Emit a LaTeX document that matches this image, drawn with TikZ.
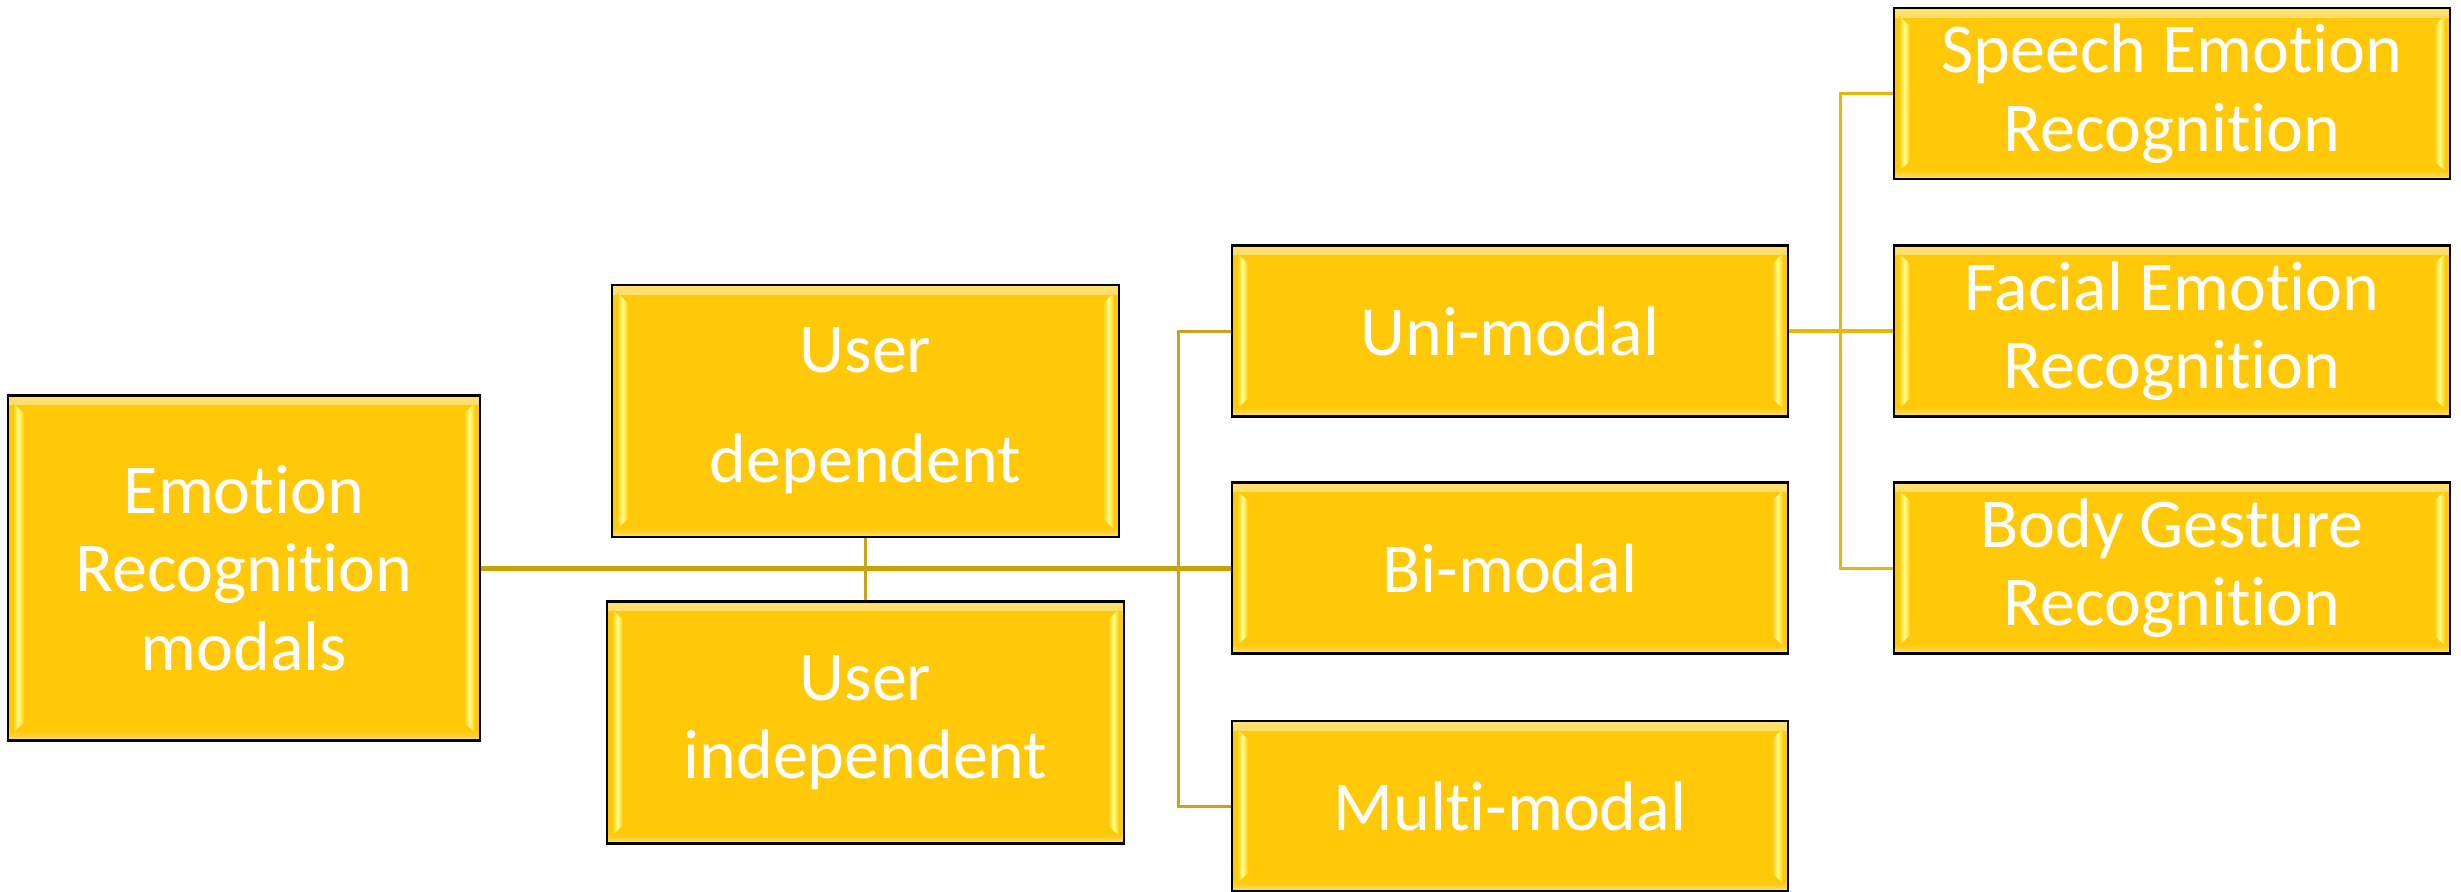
\documentclass[tikz,border=0pt]{standalone}
\usepackage{fontspec}
\setmainfont{Carlito}[Ligatures=NoCommon]

\definecolor{boxfill}{HTML}{FFC90A}
\definecolor{bevel}{HTML}{FFFF8C}
\definecolor{glow}{HTML}{FFE070}
\definecolor{linkdark}{HTML}{C9A100}
\definecolor{linkmid}{HTML}{CBA41E}
\definecolor{linkbright}{HTML}{E5B70A}

\tikzset{
  % bevelled yellow box with white text
  box/.style={
    draw=black, line width=1.1pt, fill=boxfill, text=white,
    inner sep=0pt, align=center,
    font=\fontsize{35}{39.25}\selectfont,
    path picture={
      % soft highlight along the top and bottom edges
      \fill[top color=glow, bottom color=boxfill]
        (path picture bounding box.north west) rectangle
        ([yshift=-4.5pt]path picture bounding box.north east);
      \fill[top color=boxfill, bottom color=glow]
        ([yshift=4.5pt]path picture bounding box.south west) rectangle
        (path picture bounding box.south east);
      % left bevel strip
      \fill[left color=boxfill, right color=boxfill, middle color=bevel]
        ([shift={(2.5pt,-4pt)}]path picture bounding box.north west) --
        ([shift={(8pt,-9pt)}]path picture bounding box.north west) --
        ([shift={(8pt,9pt)}]path picture bounding box.south west) --
        ([shift={(2.5pt,4pt)}]path picture bounding box.south west) -- cycle;
      % right bevel strip
      \fill[left color=boxfill, right color=boxfill, middle color=bevel]
        ([shift={(-2.5pt,-4pt)}]path picture bounding box.north east) --
        ([shift={(-8pt,-9pt)}]path picture bounding box.north east) --
        ([shift={(-8pt,9pt)}]path picture bounding box.south east) --
        ([shift={(-2.5pt,4pt)}]path picture bounding box.south east) -- cycle;
    }},
  modebox/.style={box, minimum width=278pt, minimum height=85.5pt},
  mainlink/.style={draw=linkdark, line width=2.5pt},
  thinlink/.style={draw=linkmid, line width=1.5pt},
  brightlink/.style={draw=linkbright, line width=2pt},
  brightthin/.style={draw=linkbright, line width=1.5pt},
}

\begin{document}
\begin{tikzpicture}[x=0.5pt, y=-0.5pt]
  \fill[white] (0,0) rectangle (2461,891);
  \useasboundingbox (0,0) rectangle (2461,891);

  % root
  \node[box, minimum width=236pt, minimum height=172.5pt] (erm) at (244,568)
    {Emotion\\Recognition\\modals};

  % user dependency
  \node[box, minimum width=253.5pt, minimum height=126pt,
        font=\fontsize{35}{55}\selectfont] (udep) at (865.5,411)
    {User\\dependent};
  \node[box, minimum width=258.5pt, minimum height=121pt] (uind) at (865.5,722.5)
    {User\\independent};

  % modalities
  \node[modebox] (uni)   at (1510,331) {Uni-modal};
  \node[modebox] (bi)    at (1510,568) {Bi-modal};
  \node[modebox, minimum height=85pt] (multi) at (1510,806) {Multi-modal};

  % uni-modal kinds
  \node[modebox] (speech) at (2172,93.5) {Speech Emotion\\Recognition};
  \node[modebox] (facial) at (2172,331)  {Facial Emotion\\Recognition};
  \node[modebox] (body)   at (2172,568)  {Body Gesture\\Recognition};

  % connectors
  \coordinate (spine) at (1178,568);
  \coordinate (spine2) at (1840,331);

  \draw[mainlink] (erm.east) -- (bi.west);
  \draw[thinlink] (udep.south) -- (uind.north);
  \draw[thinlink] (uni.west) -| (spine) |- (multi.west);
  \draw[brightlink] (uni.east) -- (facial.west);
  \draw[brightthin] (speech.west) -| (spine2) |- (body.west);
\end{tikzpicture}
\end{document}
